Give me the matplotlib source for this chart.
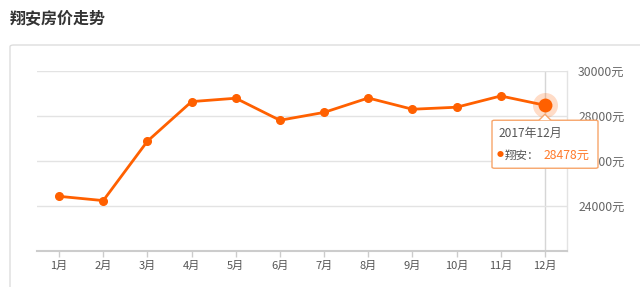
import matplotlib
matplotlib.use('Agg')
import matplotlib.pyplot as plt
from matplotlib.patches import FancyBboxPatch, Polygon

plt.rcParams['font.family'] = ['Noto Sans CJK SC', 'DejaVu Sans']

months = ['1月', '2月', '3月', '4月', '5月', '6月', '7月', '8月', '9月', '10月', '11月', '12月']
prices = [24430, 24240, 26880, 28640, 28790, 27810, 28160, 28800, 28300, 28390, 28890, 28478]
yticks = [24000, 26000, 28000, 30000]
title = '翔安房价走势'
tip_date = '2017年12月'
tip_name = '翔安'

orange = '#ff6000'
grid_c = '#e3e3e3'

fig = plt.figure(figsize=(6.4, 2.87), dpi=100)
W, H = 640, 287

def fx(px):
    return px / W

def fy(py):
    return 1 - py / H

# title and panel
fig.text(fx(10), fy(18), title, fontsize=11.5, fontweight='bold', color='#333333',
         va='center', ha='left')
panel = FancyBboxPatch((fx(10), fy(300)), fx(700), (300 - 45) / H,
                       boxstyle='round,pad=0,rounding_size=0.006',
                       transform=fig.transFigure, facecolor='white',
                       edgecolor='#dddddd', linewidth=1.0, zorder=-5)
fig.patches.append(panel)

ax = fig.add_axes([fx(37), fy(251), fx(567 - 37), (251 - 71) / H])
ax.set_facecolor('none')
x = list(range(len(months)))
ax.plot(x[:-1], prices[:-1], color=orange, lw=2.0, marker='o', ms=5.5, zorder=3)
ax.plot(x[-2:], prices[-2:], color=orange, lw=2.0, zorder=3)
ax.plot(x[-1], prices[-1], 'o', color=orange, ms=18, alpha=0.22, mec='none', zorder=4)
ax.plot(x[-1], prices[-1], 'o', color=orange, ms=10, mec='none', zorder=5)

ax.set_xlim(-0.5, len(months) - 0.5)
ax.set_ylim(22000, 30000)
ax.set_xticks(x)
ax.set_xticklabels(months)
ax.set_yticks(yticks)
ax.set_yticklabels([f'{v}元' for v in yticks])
ax.yaxis.tick_right()
ax.tick_params(axis='y', length=0, pad=8, labelsize=8.8, labelcolor='#666666')
ax.tick_params(axis='x', length=4, width=1, color='#cccccc', pad=3,
               labelsize=8, labelcolor='#555555')
ax.grid(axis='y', color=grid_c, lw=1)
for s in ['top', 'left']:
    ax.spines[s].set_visible(False)
ax.spines['bottom'].set_color('#cccccc')
ax.spines['bottom'].set_linewidth(1.5)
ax.spines['right'].set_color(grid_c)
ax.spines['right'].set_linewidth(1)
ax.axvline(x[-1], color='#d6d6d6', lw=1, zorder=1)

# tooltip
fig.canvas.draw()
px, py = ax.transData.transform((x[-1], prices[-1]))
py = H - py
bx0, bx1 = 492, 598
by0, by1 = py + 15, py + 63
tip = FancyBboxPatch((fx(bx0), fy(by1)), fx(bx1 - bx0), (by1 - by0) / H,
                     boxstyle='round,pad=0,rounding_size=0.004',
                     transform=fig.transFigure, facecolor='white',
                     edgecolor='#f7a56a', linewidth=1.0, zorder=10)
fig.patches.append(tip)
arrow = Polygon([(fx(px - 6), fy(by0)), (fx(px), fy(by0 - 6)), (fx(px + 6), fy(by0))],
                closed=False, transform=fig.transFigure, facecolor='white',
                edgecolor='#f7a56a', linewidth=1.0, zorder=11)
fig.patches.append(arrow)
fig.text(fx(bx0 + 7), fy(by0 + 13), tip_date, fontsize=8.6, color='#555555',
         va='center', ha='left', zorder=12)
fig.text(fx(bx0 + 5), fy(by0 + 35), '●', fontsize=5, color=orange,
         va='center', ha='left', zorder=12)
fig.text(fx(bx0 + 13), fy(by0 + 35), tip_name + '：', fontsize=8.3, color='#555555',
         va='center', ha='left', zorder=12)
fig.text(fx(bx0 + 52), fy(by0 + 35), f'{prices[-1]}元', fontsize=8.8, color='#ff7a2a',
         va='center', ha='left', zorder=12)

fig.savefig('out.png', dpi=100)
